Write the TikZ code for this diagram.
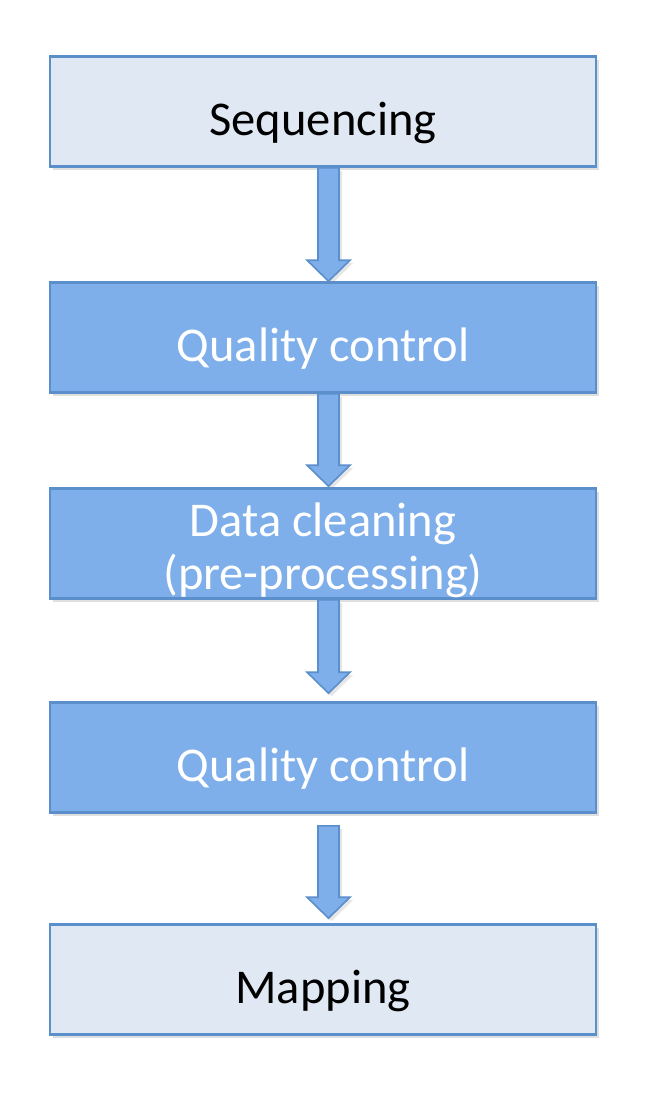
\documentclass[tikz,border=0pt]{standalone}
\usepackage{fontspec}
\setmainfont{Carlito}
\definecolor{boxLight}{HTML}{E0E8F3}
\definecolor{boxBlue}{HTML}{7EAFEA}
\definecolor{boxEdge}{HTML}{5B8FCC}
\usetikzlibrary{positioning, calc, shadows}

% block arrow between two stages: from, to, gap at start, gap at end
\newcommand{\flowarrow}[4]{%
  \filldraw[flowarrow]
    ($(#1.south)+(-5pt,-#3)$) -- ($(#2.north)+(-5pt,21pt+#4)$)
    -- ($(#2.north)+(-16pt,21pt+#4)$) -- ($(#2.north)+(5.5pt,#4)$)
    -- ($(#2.north)+(27pt,21pt+#4)$) -- ($(#2.north)+(16pt,21pt+#4)$)
    -- ($(#1.south)+(16pt,-#3)$) -- cycle;}

\begin{document}
\begin{tikzpicture}[
    node distance=113pt,
    % --- Estilos ---
    stage/.style={draw=boxEdge, line width=2.6pt, rectangle, minimum width=546pt,
                  minimum height=110pt, align=center,
                  font=\fontsize{48.5pt}{53pt}\selectfont,
                  text height=47pt, text depth=0pt,
                  drop shadow={shadow xshift=3pt, shadow yshift=-3pt, opacity=0.25}},
    light/.style={stage, fill=boxLight, text=black},
    dark/.style={stage, fill=boxBlue, text=white},
    flowarrow/.style={fill=boxBlue, draw=boxEdge, line width=1.6pt, line join=miter,
                      drop shadow={shadow xshift=3pt, shadow yshift=-3pt, opacity=0.2}}
]
\useasboundingbox (0,0) rectangle (664pt,-1114pt);

% ====== Etapas ======
\node[light] (Seq) at (323pt,-111.5pt) {Sequencing};
\node[dark] (QC1) [below=113.4pt of Seq] {Quality control};
\node[dark, text height=92pt] (Clean) [below=93.4pt of QC1] {Data cleaning\\(pre-processing)};
\node[dark] (QC2) [below=101.4pt of Clean] {Quality control};
\node[light] (Map) [below=109.4pt of QC2] {Mapping};

% ====== Flechas ======
\flowarrow{Seq}{QC1}{0pt}{0pt}
\flowarrow{QC1}{Clean}{0pt}{1pt}
\flowarrow{Clean}{QC2}{0pt}{8pt}
\flowarrow{QC2}{Map}{12pt}{5pt}

\end{tikzpicture}
\end{document}
